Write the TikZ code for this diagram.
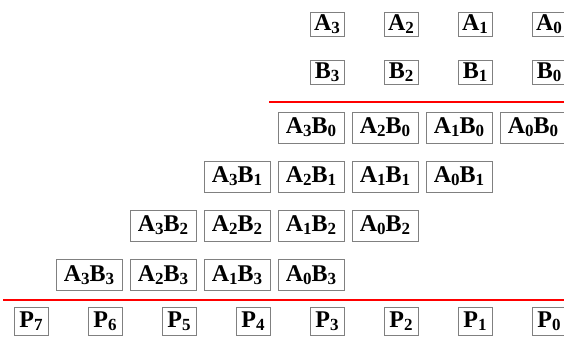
\documentclass[tikz,border=0pt]{standalone}
\usepackage{fontspec}
\setmainfont{Liberation Serif}
\usetikzlibrary{positioning}
\newcommand{\sbs}[1]{\raisebox{-0.12em}{\fontsize{17pt}{17pt}\selectfont #1}}

\begin{document}
\begin{tikzpicture}[x=1pt,y=1pt,node distance=74pt,on grid,
    bit/.style={draw=gray,line width=0.8pt,minimum width=34pt,minimum height=24pt,
      inner sep=0pt,font=\fontsize{24pt}{24pt}\selectfont\bfseries},
    pp/.style={bit,minimum width=66pt,minimum height=31pt},
    sep/.style={red,line width=2pt}]
  \useasboundingbox (0,0) rectangle (564,-337);
  % operands
  \node[bit] (a3) at (327,-24) {A\sbs{3}};
  \node[bit] (a2) [right=of a3] {A\sbs{2}};
  \node[bit] (a1) [right=of a2] {A\sbs{1}};
  \node[bit] (a0) [right=of a1] {A\sbs{0}};
  \node[bit] (b3) [below=48pt of a3] {B\sbs{3}};
  \node[bit] (b2) [right=of b3] {B\sbs{2}};
  \node[bit] (b1) [right=of b2] {B\sbs{1}};
  \node[bit] (b0) [right=of b1] {B\sbs{0}};
  \coordinate (top l) at (269,-102);
  \coordinate (top r) at (564,-102);
  \draw[sep] (top l) -- (top r);
  % partial products
  \node[pp] (a3b0) at (311,-127.5) {A\sbs{3}B\sbs{0}};
  \node[pp] (a2b0) [right=of a3b0] {A\sbs{2}B\sbs{0}};
  \node[pp] (a1b0) [right=of a2b0] {A\sbs{1}B\sbs{0}};
  \node[pp] (a0b0) [right=of a1b0] {A\sbs{0}B\sbs{0}};
  \node[pp] (a3b1) at (237,-176.5) {A\sbs{3}B\sbs{1}};
  \node[pp] (a2b1) [right=of a3b1] {A\sbs{2}B\sbs{1}};
  \node[pp] (a1b1) [right=of a2b1] {A\sbs{1}B\sbs{1}};
  \node[pp] (a0b1) [right=of a1b1] {A\sbs{0}B\sbs{1}};
  \node[pp] (a3b2) at (163,-225.5) {A\sbs{3}B\sbs{2}};
  \node[pp] (a2b2) [right=of a3b2] {A\sbs{2}B\sbs{2}};
  \node[pp] (a1b2) [right=of a2b2] {A\sbs{1}B\sbs{2}};
  \node[pp] (a0b2) [right=of a1b2] {A\sbs{0}B\sbs{2}};
  \node[pp] (a3b3) at (89,-275) {A\sbs{3}B\sbs{3}};
  \node[pp] (a2b3) [right=of a3b3] {A\sbs{2}B\sbs{3}};
  \node[pp] (a1b3) [right=of a2b3] {A\sbs{1}B\sbs{3}};
  \node[pp] (a0b3) [right=of a1b3] {A\sbs{0}B\sbs{3}};
  \coordinate (bot l) at (3,-300);
  \coordinate (bot r) at (564,-300);
  \draw[sep] (bot l) -- (bot r);
  % product
  \node[bit,minimum height=28pt] (p7) at (31,-321) {P\sbs{7}};
  \node[bit,minimum height=28pt] (p6) [right=of p7] {P\sbs{6}};
  \node[bit,minimum height=28pt] (p5) [right=of p6] {P\sbs{5}};
  \node[bit,minimum height=28pt] (p4) [right=of p5] {P\sbs{4}};
  \node[bit,minimum height=28pt] (p3) [right=of p4] {P\sbs{3}};
  \node[bit,minimum height=28pt] (p2) [right=of p3] {P\sbs{2}};
  \node[bit,minimum height=28pt] (p1) [right=of p2] {P\sbs{1}};
  \node[bit,minimum height=28pt] (p0) [right=of p1] {P\sbs{0}};
\end{tikzpicture}
\end{document}
